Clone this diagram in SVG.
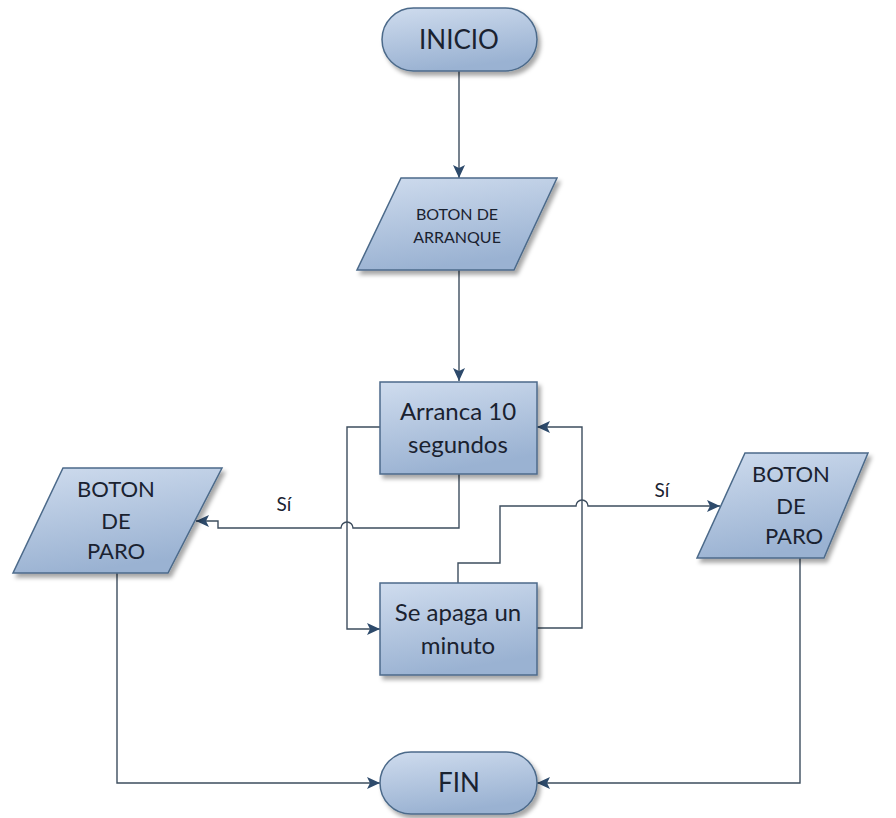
<svg xmlns="http://www.w3.org/2000/svg" width="896" height="818" viewBox="0 0 896 818">
<defs>
<linearGradient id="g" x1="0" y1="0" x2="0.3" y2="1">
<stop offset="0" stop-color="#cfdcee"/>
<stop offset="1" stop-color="#9ab2d2"/>
</linearGradient>
<filter id="sh" x="-10%" y="-10%" width="130%" height="140%">
<feDropShadow dx="3" dy="4" stdDeviation="2" flood-color="#000" flood-opacity="0.35"/>
</filter>
<marker id="ah" markerUnits="userSpaceOnUse" markerWidth="14" markerHeight="12" refX="13" refY="6" orient="auto">
<path d="M0,0 L13,6 L0,12 L3,6 z" fill="#2d4a6b"/>
</marker>
</defs>
<style>
.s{fill:url(#g);stroke:#4c6a8a;stroke-width:1.5;filter:url(#sh)}
.c{fill:none;stroke:#3d4d5e;stroke-width:1.4;marker-end:url(#ah)}
text{font-family:Lato,"Open Sans","Liberation Sans",sans-serif;fill:#1a2230;text-anchor:middle}
.t1{font-size:26px}
.t2{font-size:16px}
.t3{font-size:24px}
.t4{font-size:22px}
.t5{font-size:19px}
</style>
<g id="connectors">
<path class="c" d="M459,71 V178"/>
<path class="c" d="M459,270 V381"/>
<path class="c" d="M380,427 H347 V629 H380"/>
<path class="c" d="M537,628 H582 V427 H537"/>
<path class="c" d="M459,474 V528 H353 A6,6 0 0 0 341,528 H218 V521 H196"/>
<path class="c" d="M458,583 V563 H500 V506 H576 A6,6 0 0 1 588,506 H720"/>
<path class="c" d="M117,573 V783 H380"/>
<path class="c" d="M800,558 V783 H537"/>
</g>
<g id="inicio">
<rect class="s" x="382" y="8" width="155" height="63" rx="31.5"/>
<text class="t1" x="459" y="49">INICIO</text>
</g>
<g id="arranque">
<path class="s" d="M401,178 H557 L514,270 H357 Z"/>
<text class="t2" x="457" y="220">BOTON DE</text>
<text class="t2" x="457" y="243">ARRANQUE</text>
</g>
<g id="arranca">
<rect class="s" x="380" y="382" width="157" height="92"/>
<text class="t3" x="458" y="420">Arranca 10</text>
<text class="t3" x="458" y="453">segundos</text>
</g>
<g id="apaga">
<rect class="s" x="380" y="583" width="157" height="92"/>
<text class="t3" x="458" y="621">Se apaga un</text>
<text class="t3" x="458" y="654">minuto</text>
</g>
<g id="paro-izq">
<path class="s" d="M63,468 H222 L168,573 H13 Z"/>
<text class="t4" x="116" y="497">BOTON</text>
<text class="t4" x="116" y="529">DE</text>
<text class="t4" x="116" y="559">PARO</text>
</g>
<g id="paro-der">
<path class="s" d="M745,453 H868 L824,558 H697 Z"/>
<text class="t4" x="791" y="482">BOTON</text>
<text class="t4" x="791" y="514">DE</text>
<text class="t4" x="794" y="544">PARO</text>
</g>
<g id="fin">
<rect class="s" x="380" y="752" width="157" height="62" rx="31"/>
<text class="t1" x="459" y="792">FIN</text>
</g>
<g id="labels">
<text class="t5" x="284" y="511">Sí</text>
<text class="t5" x="662" y="497">Sí</text>
</g>
</svg>
